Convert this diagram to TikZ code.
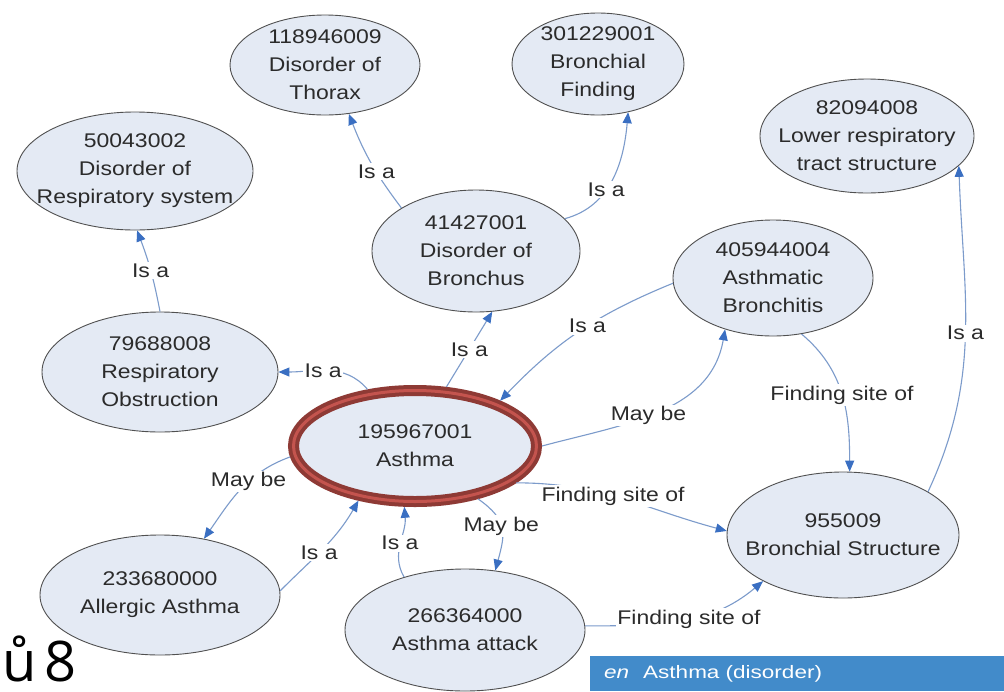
\documentclass[tikz,border=0pt]{standalone}
\usepackage{fontspec}
\setmainfont{Liberation Sans}
\newfontfamily\nodefont[FakeStretch=1.16]{Liberation Sans}
\newfontfamily\barfont[FakeStretch=1.25]{Liberation Sans}
\newfontfamily\pagefont{Open Sans}
\usetikzlibrary{shapes.geometric,arrows.meta}
\definecolor{ellfill}{HTML}{E4EAF4}
\definecolor{ellgray}{HTML}{505050}
\definecolor{linecol}{HTML}{7C9BCB}
\definecolor{arrcol}{HTML}{3A6FC2}
\definecolor{txtcol}{HTML}{2B2B2B}
\definecolor{redouter}{HTML}{8E3A35}
\definecolor{redinner}{HTML}{C4544E}
\definecolor{barblue}{HTML}{428BCA}
\begin{document}
\begin{tikzpicture}[x=1pt,y=-1pt,
  ell/.style={ellipse, draw=ellgray, line width=0.9pt, fill=ellfill, inner sep=0pt},
  txt/.style={align=center, font=\nodefont\fontsize{19.8}{28}\selectfont, text=txtcol, inner sep=0pt},
  rel/.style={draw=linecol, line width=1.1pt, -{Triangle[length=11pt,width=9pt,fill=arrcol,color=arrcol]}},
  lbl/.style={fill=white, font=\nodefont\fontsize{19.8}{24}\selectfont, text=txtcol, inner sep=1.5pt}]
\useasboundingbox (0,0) rectangle (1004,691);
\fill[white] (0,0) rectangle (1004,691);

% concept ellipses
\node[ell, minimum width=190, minimum height=100] (thorax) at (325,65) {};
\node[txt] (thoraxT) at (thorax) {118946009\\Disorder of\\Thorax};
\node[ell, minimum width=172, minimum height=102] (finding) at (598,64) {};
\node[txt] (findingT) at (finding) {301229001\\Bronchial\\Finding};
\node[ell, minimum width=214, minimum height=114] (lower) at (867,136) {};
\node[txt] (lowerT) at (lower) {82094008\\Lower respiratory\\tract structure};
\node[ell, minimum width=236, minimum height=118] (resp) at (135,171) {};
\node[txt] (respT) at (resp) {50043002\\Disorder of\\Respiratory system};
\node[ell, minimum width=208, minimum height=122] (bronchus) at (476,251) {};
\node[txt] (bronchusT) at (bronchus) {41427001\\Disorder of\\Bronchus};
\node[ell, minimum width=200, minimum height=116] (bronchitis) at (773,278) {};
\node[txt] (bronchitisT) at (bronchitis) {405944004\\Asthmatic\\Bronchitis};
\node[ell, minimum width=236, minimum height=120] (obstr) at (160,372) {};
\node[txt] (obstrT) at (obstr) {79688008\\Respiratory\\Obstruction};
\node[ellipse, fill=ellfill, draw=redouter, line width=4pt, double=redinner, double distance=3pt,
      inner sep=0pt, outer sep=5.5pt, minimum width=243, minimum height=111] (asthma) at (415,446) {};
\node[txt] (asthmaT) at (asthma) {195967001\\Asthma};
\node[ell, minimum width=240, minimum height=120] (allergic) at (160,595) {};
\node[txt] (allergicT) at (allergic) {233680000\\Allergic Asthma};
\node[ell, minimum width=240, minimum height=122] (attack) at (465,630) {};
\node[txt] (attackT) at (attack) {266364000\\Asthma attack};
\node[ell, minimum width=232, minimum height=126] (struct) at (843,535) {};
\node[txt] (structT) at (struct) {955009\\Bronchial Structure};

% relations
\draw[rel] (bronchus.150) to[bend left=8] node[lbl,pos=0.4]{Is a} (thorax.-64);
\draw[rel] (bronchus.20) to[out=15,in=-95] node[lbl,pos=0.4]{Is a} (finding.-58);
\draw[rel] (obstr.90) to[bend right=5] node[lbl]{Is a} (resp.-88);
\draw[rel] (asthma.130) to[out=130,in=0] node[lbl,pos=0.55]{Is a} (obstr.0);
\draw[rel] (asthma.62) -- node[lbl]{Is a} (bronchus.-75);
\draw[rel] (bronchitis.183) to[bend right=12] node[lbl,pos=0.45]{Is a} (asthma.28);
\draw[rel] (asthma.0) to[out=15,in=-100] node[lbl,pos=0.45]{May be} (bronchitis.-133);
\draw[rel] (bronchitis.-63) to[out=-40,in=90] node[lbl,pos=0.5]{Finding site of} (struct.84);
\draw[rel] (struct.27) to[out=65,in=-88] node[lbl,pos=0.5]{Is a} (lower.-18);
\draw[rel] (asthma.-20) to[out=0,in=165] node[lbl,pos=0.45]{Finding site of} (struct.178);
\draw[rel] (asthma.185) to[out=200,in=55] node[lbl,pos=0.4]{May be} (allergic.52);
\draw[rel] (allergic.2) to[out=45,in=-120] node[lbl,pos=0.45]{Is a} (asthma.-136);
\draw[rel] (attack.139) to[out=120,in=-85] node[lbl]{Is a} (asthma.-100);
\draw[rel] (asthma.-40) to[out=-35,in=75,looseness=1.3] node[lbl,pos=0.45]{May be} (attack.63);
\draw[rel] (attack.2) to[out=0,in=-140] node[lbl,pos=0.55]{Finding site of} (struct.-150);

% page number fragment and language bar
\node[anchor=base west, inner sep=0pt, font=\pagefont\fontsize{56}{64}\selectfont] (pg) at (2,681) {ů\hspace{8pt}8};
\node[fill=barblue, anchor=north west, inner sep=0pt, minimum width=414, minimum height=35] (bar) at (590,656) {};
\node[anchor=west, inner sep=0pt, text=white, font=\barfont\fontsize{18}{20}\selectfont] (barT) at (604,674) {\textit{en}\hspace{14pt}Asthma (disorder)};
\end{tikzpicture}
\end{document}
